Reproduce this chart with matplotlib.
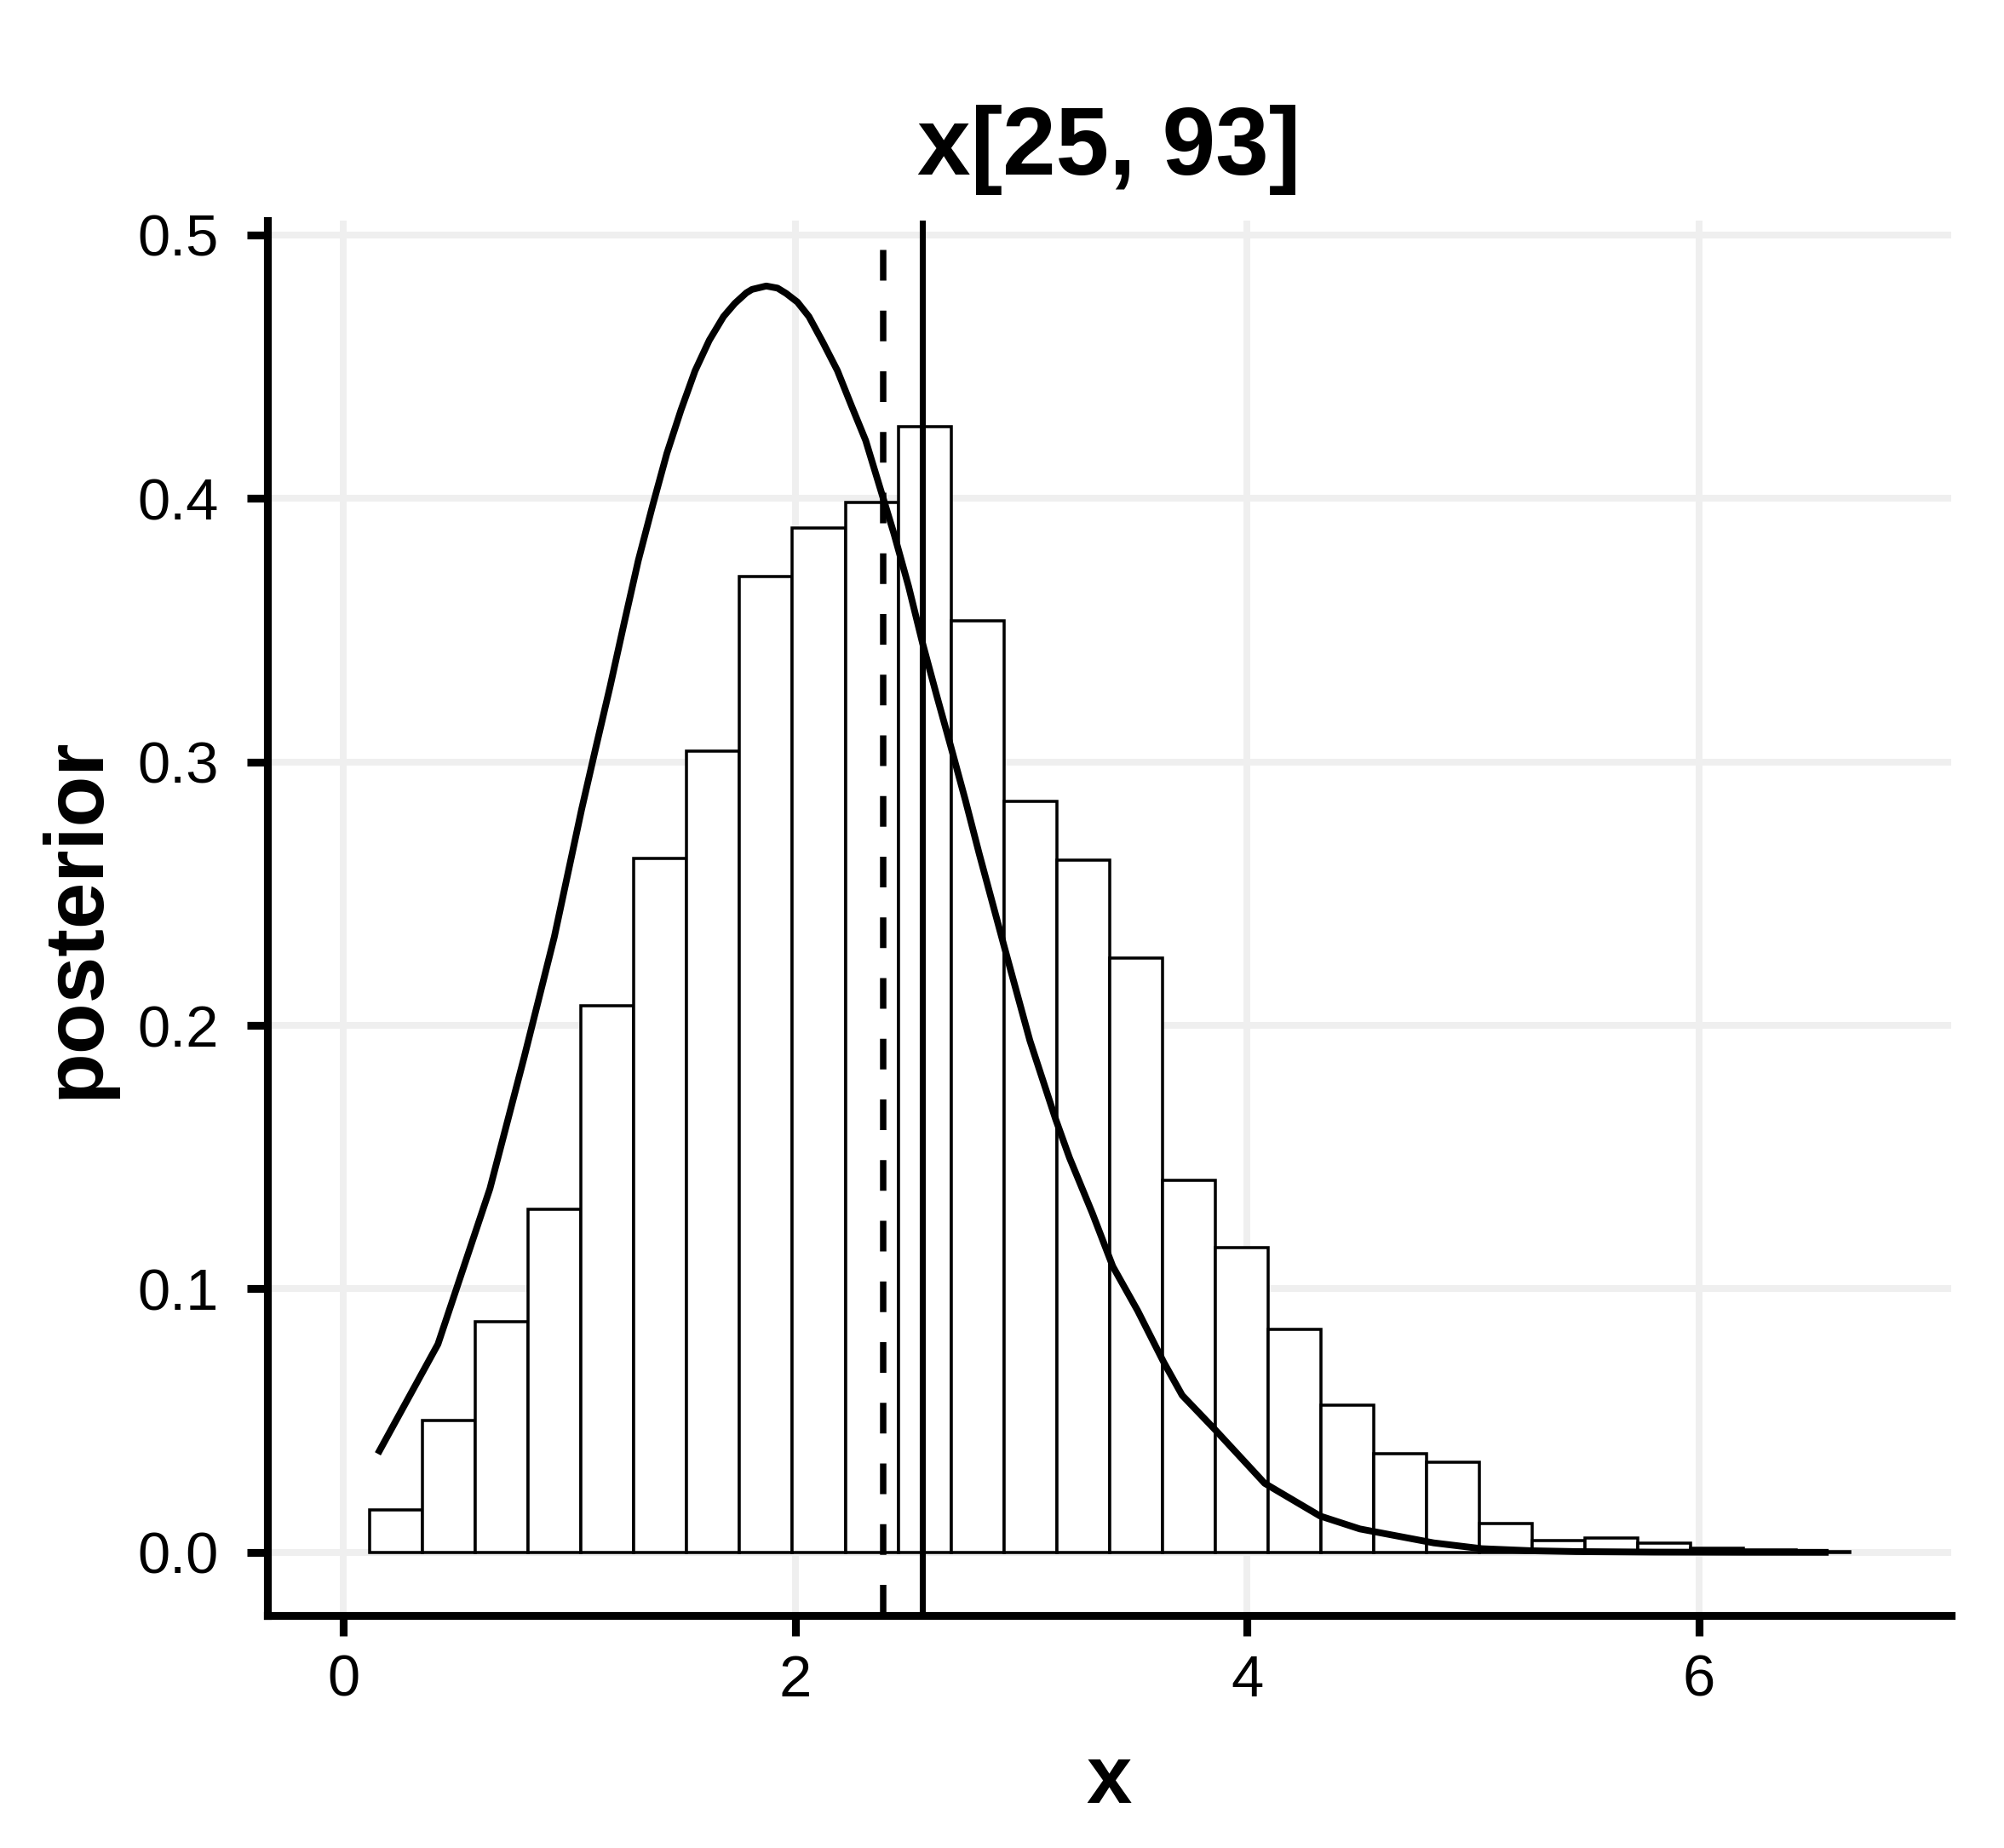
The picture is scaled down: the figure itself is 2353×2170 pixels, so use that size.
import matplotlib
matplotlib.use("Agg")
import matplotlib.pyplot as plt
import numpy as np

plt.rcParams['font.family'] = ['Liberation Sans', 'DejaVu Sans']

# histogram of posterior draws (density scale)
bin_lo, bin_w = 0.116, 0.2339
density = [0.0162, 0.0501, 0.0874, 0.1303, 0.2074, 0.2633, 0.3041, 0.3704,
           0.3886, 0.3985, 0.4273, 0.3534, 0.2851, 0.2628, 0.2254, 0.1411,
           0.1156, 0.0847, 0.0558, 0.0375, 0.0343, 0.0109, 0.0044, 0.0055,
           0.0034, 0.0016, 0.0008, 0.0004]

# prior density curve
curve_x = [0.152, 0.418, 0.648, 0.800, 0.933, 1.054, 1.117, 1.180, 1.242, 1.305,
           1.368, 1.431, 1.494, 1.556, 1.619, 1.682, 1.732, 1.783, 1.808, 1.871,
           1.921, 1.959, 2.009, 2.060, 2.122, 2.186, 2.248, 2.311, 2.437, 2.501,
           2.563, 2.626, 2.689, 2.752, 2.814, 2.924, 3.038, 3.151, 3.213, 3.314,
           3.405, 3.515, 3.630, 3.712, 3.857, 4.077, 4.322, 4.498, 4.825, 5.038,
           5.264, 5.453, 5.800, 6.200, 6.573]
curve_y = [0.0374, 0.0790, 0.1380, 0.1880, 0.2335, 0.2820, 0.3055, 0.3286, 0.3526, 0.3765,
           0.3972, 0.4170, 0.4336, 0.4484, 0.4600, 0.4690, 0.4740, 0.4780, 0.4793, 0.4806,
           0.4798, 0.4778, 0.4745, 0.4690, 0.4592, 0.4485, 0.4352, 0.4220, 0.3864, 0.3666,
           0.3450, 0.3250, 0.3055, 0.2856, 0.2650, 0.2300, 0.1942, 0.1646, 0.1498, 0.1288,
           0.1085, 0.0917, 0.0722, 0.0596, 0.0466, 0.0262, 0.0138, 0.0089, 0.0036, 0.0014,
           0.0006, 0.0003, 0.0001, 0.00003, 0.00001]

dashed_at = 2.389   # dashed reference line
solid_at = 2.562    # solid reference line

fig = plt.figure(figsize=(2353 / 300, 2170 / 300), dpi=300)
ax = fig.add_axes([0.1334, 0.1259, 0.8402, 0.7547])

lefts = bin_lo + bin_w * np.arange(len(density))
ax.bar(lefts, density, width=bin_w, align='edge', facecolor='white',
       edgecolor='black', linewidth=0.85, zorder=2)
ax.plot(curve_x, curve_y, color='black', linewidth=1.9, solid_capstyle='butt',
        solid_joinstyle='round', zorder=3)
ax.axvline(dashed_at, color='black', linewidth=1.8, linestyle=(0, (4.8, 4.7)), zorder=4)
ax.axvline(solid_at, color='black', linewidth=1.7, zorder=4)

ax.set_xlim(-0.337, 7.115)
ax.set_ylim(-0.0239, 0.5054)
ax.set_xticks([0, 2, 4, 6])
ax.set_yticks([0.0, 0.1, 0.2, 0.3, 0.4, 0.5])
ax.set_yticklabels(['0.0', '0.1', '0.2', '0.3', '0.4', '0.5'])
ax.grid(True, color='#EFEFEF', linewidth=1.9, zorder=0)
ax.set_axisbelow(True)

for side in ['top', 'right']:
    ax.spines[side].set_visible(False)
for side in ['left', 'bottom']:
    ax.spines[side].set_linewidth(2.2)
ax.tick_params(axis='both', length=5.8, width=2.2, labelsize=16.5, color='black')
ax.tick_params(axis='x', pad=5)
ax.tick_params(axis='y', pad=8)

ax.set_title('x[25, 93]', fontsize=27, fontweight='bold', pad=13)
ax.set_xlabel('x', fontsize=23, fontweight='bold', labelpad=10)
ax.set_ylabel('posterior', fontsize=23.5, fontweight='bold', labelpad=6)

fig.savefig('out.png', dpi=300)
